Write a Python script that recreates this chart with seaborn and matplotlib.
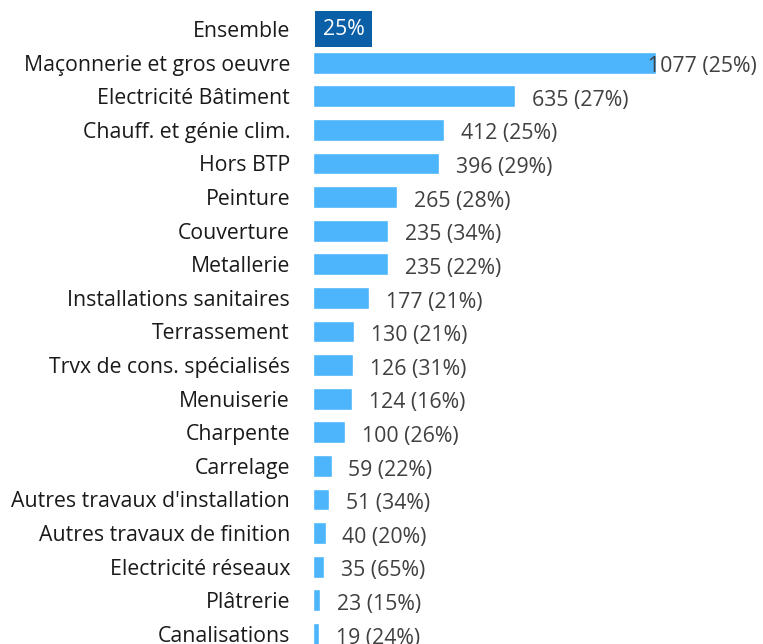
import matplotlib
matplotlib.use("Agg")
import matplotlib.pyplot as plt
import seaborn as sns
import pandas as pd

categories = ["Maçonnerie et gros oeuvre", "Electricité Bâtiment", "Chauff. et génie clim.",
              "Hors BTP", "Peinture", "Couverture", "Metallerie", "Installations sanitaires",
              "Terrassement", "Trvx de cons. spécialisés", "Menuiserie", "Charpente",
              "Carrelage", "Autres travaux d'installation", "Autres travaux de finition",
              "Electricité réseaux", "Plâtrerie", "Canalisations"]
counts = [1077, 635, 412, 396, 265, 235, 235, 177, 130, 126, 124, 100, 59, 51, 40, 35, 23, 19]
shares = [25, 27, 25, 29, 28, 34, 22, 21, 21, 31, 16, 26, 22, 34, 20, 65, 15, 24]
total_label = "Ensemble"
total_share = 25

sns.set_theme(style="white")
plt.rcParams['font.family'] = ['Open Sans', 'DejaVu Sans']

df = pd.DataFrame({"cat": categories, "n": counts, "pct": shares})
df["row"] = range(1, len(df) + 1)

fig = plt.figure(figsize=(7.63, 6.44), dpi=100)
ax = fig.add_axes([313 / 763, 0, 450 / 763, 1])

sns.barplot(data=df, x="n", y="cat", order=categories, color="#4db5fb",
            saturation=1, width=0.65, orient="h", ax=ax)

# shift: row 0 is "Ensemble", bars are rows 1..18
for patch in ax.patches:
    patch.set_y(patch.get_y() + 1)

labels = [total_label] + categories
ax.set_yticks(range(len(labels)))
ax.set_yticklabels(labels, fontsize=15.3, color="#1a1a1a")
ax.tick_params(axis="y", length=0, pad=16.5)
ax.set_xticks([])
ax.set_xlabel("")
ax.set_ylabel("")
ax.set_xlim(0, 1413)
ax.set_ylim(18.3, -0.863)
sns.despine(ax=ax, left=True, bottom=True)

ax.annotate(f"{total_share}%", xy=(0, 0), xytext=(7.2, 0), textcoords="offset points",
            ha="left", va="center", fontsize=15.3, color="white",
            bbox=dict(boxstyle="square,pad=0.36", fc="#0a5fa6", ec="none"))

fig.canvas.draw()
renderer = fig.canvas.get_renderer()
limit = 757
for r, n, p in zip(df["row"], df["n"], df["pct"]):
    t = ax.annotate(f"{n} ({p}%)", xy=(n, r), xytext=(12, -3), textcoords="offset points",
                    ha="left", va="center", fontsize=15.3, color="#404040")
    bb = t.get_window_extent(renderer)
    if bb.x1 > limit:
        t.set_position((-(bb.x1 - limit) * 72 / 100 + 12, -3))

fig.savefig("out.png", dpi=100)
